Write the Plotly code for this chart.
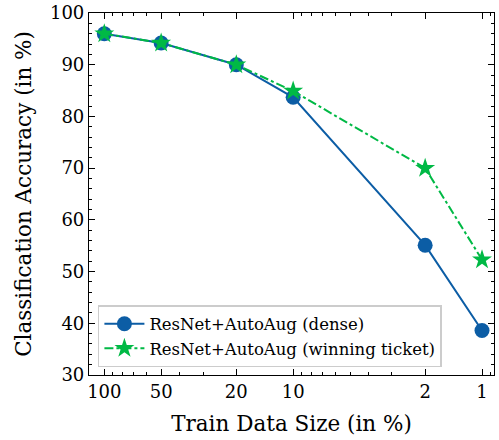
import numpy as np
import plotly.graph_objects as go

train_size = [100, 50, 20, 10, 2, 1]
dense_acc = [96.0, 94.2, 90.0, 83.7, 55.1, 38.6]
ticket_acc = [96.0, 94.2, 90.0, 84.9, 70.0, 52.3]
x_tick_vals = [100, 50, 20, 10, 2, 1]
x_tick_text = ["100", "50", "20", "10", "2", "1"]
x_minor_vals = [90, 80, 70, 60, 40, 30, 9, 8, 7, 6, 5, 4, 3, 0.9]

BLUE = "#0C5DA5"
GREEN = "#00B945"
FONT = "DejaVu Serif"

fig = go.Figure()
fig.add_trace(go.Scatter(
    x=train_size, y=dense_acc, mode="lines+markers",
    name="ResNet+AutoAug (dense)",
    line=dict(color=BLUE, width=2),
    marker=dict(symbol="circle", size=15, color=BLUE),
))
fig.add_trace(go.Scatter(
    x=train_size, y=ticket_acc, mode="lines+markers",
    name="ResNet+AutoAug (winning ticket)",
    line=dict(color=GREEN, width=2, dash="dashdot"),
    marker=dict(symbol="star", size=15, color=GREEN),
))

axis_common = dict(
    showline=True, linecolor="black", linewidth=1.2, mirror="allticks",
    ticks="inside", ticklen=6, tickwidth=1.2, tickcolor="black",
    showgrid=False, zeroline=False, automargin=False,
    tickfont=dict(family=FONT, size=18, color="black"),
)

fig.update_xaxes(
    type="log",
    range=[np.log10(120.5), np.log10(0.864)],
    tickvals=x_tick_vals, ticktext=x_tick_text,
    title=dict(text="Train Data Size (in %)", font=dict(family=FONT, size=21.5, color="black"), standoff=15),
    minor=dict(tickvals=x_minor_vals, ticks="inside", ticklen=3, tickwidth=1, tickcolor="black"),
    **axis_common,
)
fig.update_yaxes(
    range=[30, 100],
    tickvals=[30, 40, 50, 60, 70, 80, 90, 100],
    title=dict(text="Classification Accuracy (in %)", font=dict(family=FONT, size=21.5, color="black"), standoff=12),
    minor=dict(dtick=2, ticks="inside", ticklen=3, tickwidth=1, tickcolor="black"),
    **axis_common,
)

fig.update_layout(
    width=499, height=440,
    margin=dict(l=89, r=5, t=13, b=65),
    plot_bgcolor="white", paper_bgcolor="white",
    font=dict(family=FONT, color="black"),
    legend=dict(
        x=0.022, y=0.022, xanchor="left", yanchor="bottom",
        bgcolor="rgba(255,255,255,0.85)", bordercolor="#cccccc", borderwidth=1.5,
        font=dict(family=FONT, size=16.5, color="black"),
        itemwidth=40, tracegroupgap=0,
    ),
)

fig.write_html("out.html", config={"displayModeBar": False},
               post_script="document.body.style.margin='0';")
